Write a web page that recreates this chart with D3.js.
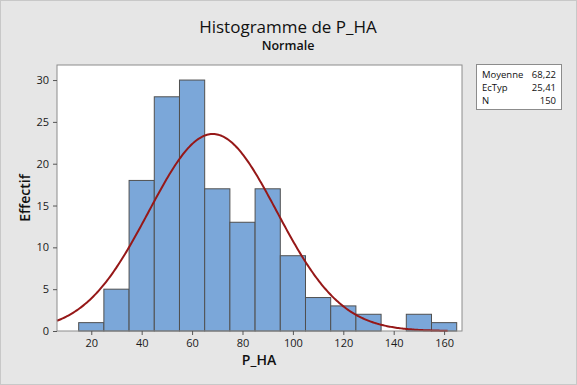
<!DOCTYPE html>
<html>
<head>
<meta charset="utf-8">
<script src="https://cdn.jsdelivr.net/npm/d3@7"></script>
<style>
  body { margin: 0; }
  svg { display: block; font-family: "Open Sans", "Noto Sans", sans-serif; }
</style>
</head>
<body>
<svg id="chart" width="577" height="385"></svg>
<script>
// bins of width 10 (lower edges) and their counts
const binStarts = [15, 25, 35, 45, 55, 65, 75, 85, 95, 105, 115, 125, 135, 145, 155];
const counts = [1, 5, 18, 28, 30, 17, 13, 17, 9, 4, 3, 2, 0, 2, 1];
const binWidth = 10;
const xTicks = [20, 40, 60, 80, 100, 120, 140, 160];
const yTicks = [0, 5, 10, 15, 20, 25, 30];
const stats = [
  { label: 'Moyenne', value: '68,22' },
  { label: 'EcTyp', value: '25,41' },
  { label: 'N', value: '150' }
];
const mean = 68.22, sd = 25.41, n = 150;

const svg = d3.select('#chart');
const W = 577, H = 385;
const plot = { left: 57, right: 462, top: 65, bottom: 331 };

// background
svg.append('rect')
  .attr('x', 0.5).attr('y', 0.5)
  .attr('width', W - 1).attr('height', H - 1)
  .attr('fill', '#e6e6e6')
  .attr('stroke', '#c8c8c8');

const x = d3.scaleLinear().domain([6.4, 167.1]).range([plot.left, plot.right]);
const y = d3.scaleLinear().domain([0, 31.8]).range([plot.bottom, plot.top]);

svg.append('rect')
  .attr('x', plot.left).attr('y', plot.top)
  .attr('width', plot.right - plot.left).attr('height', plot.bottom - plot.top)
  .attr('fill', '#fff');

// bars
svg.append('g')
  .selectAll('rect')
  .data(binStarts.map((b, i) => ({ x0: b, c: counts[i] })).filter(d => d.c > 0))
  .enter()
  .append('rect')
  .attr('x', d => x(d.x0))
  .attr('y', d => y(d.c))
  .attr('width', d => x(d.x0 + binWidth) - x(d.x0))
  .attr('height', d => y(0) - y(d.c))
  .attr('fill', '#7ba7d9')
  .attr('stroke', '#505050')
  .attr('stroke-width', 1);

// normal curve
const scale = n * binWidth;
const pdf = v => scale * Math.exp(-0.5 * ((v - mean) / sd) ** 2) / (sd * Math.sqrt(2 * Math.PI));
const curveX = d3.range(6.4, 161.5, 0.5);
svg.append('path')
  .datum(curveX)
  .attr('d', d3.line().x(d => x(d)).y(d => y(pdf(d))))
  .attr('fill', 'none')
  .attr('stroke', '#961818')
  .attr('stroke-width', 2);

// frame
svg.append('rect')
  .attr('x', plot.left).attr('y', plot.top)
  .attr('width', plot.right - plot.left).attr('height', plot.bottom - plot.top)
  .attr('fill', 'none')
  .attr('stroke', '#8c8c8c');

// axes
const xAxis = svg.append('g')
  .attr('transform', `translate(0,${plot.bottom})`)
  .call(d3.axisBottom(x).tickValues(xTicks).tickSize(4).tickPadding(4));
const yAxis = svg.append('g')
  .attr('transform', `translate(${plot.left},0)`)
  .call(d3.axisLeft(y).tickValues(yTicks).tickSize(4).tickPadding(4));
[xAxis, yAxis].forEach(a => {
  a.select('.domain').remove();
  a.selectAll('line').attr('stroke', '#555');
  a.selectAll('text').attr('font-size', 11).attr('fill', '#1a1a1a')
    .attr('font-family', '"Open Sans", "Noto Sans", sans-serif');
});

// titles
svg.append('text')
  .attr('x', 288).attr('y', 33)
  .attr('text-anchor', 'middle')
  .attr('font-size', 17)
  .attr('font-weight', 500)
  .attr('fill', '#111')
  .text('Histogramme de P_HA');
svg.append('text')
  .attr('x', 288).attr('y', 50)
  .attr('text-anchor', 'middle')
  .attr('font-size', 12.5)
  .attr('font-weight', 600)
  .attr('fill', '#111')
  .text('Normale');
svg.append('text')
  .attr('x', 259).attr('y', 365)
  .attr('text-anchor', 'middle')
  .attr('font-size', 14)
  .attr('font-weight', 600)
  .attr('fill', '#111')
  .text('P_HA');
svg.append('text')
  .attr('transform', 'translate(30,198) rotate(-90)')
  .attr('text-anchor', 'middle')
  .attr('font-size', 14)
  .attr('font-weight', 600)
  .attr('fill', '#111')
  .text('Effectif');

// stats box
const box = svg.append('g');
box.append('rect')
  .attr('x', 476.5).attr('y', 64.5)
  .attr('width', 85).attr('height', 45)
  .attr('fill', '#fff')
  .attr('stroke', '#8c8c8c');
const rows = box.selectAll('g.row')
  .data(stats)
  .enter()
  .append('g')
  .attr('transform', (d, i) => `translate(0,${77.5 + i * 13})`);
rows.append('text')
  .attr('x', 482)
  .attr('font-size', 9.5)
  .attr('fill', '#111')
  .text(d => d.label);
rows.append('text')
  .attr('x', 556)
  .attr('text-anchor', 'end')
  .attr('font-size', 9.5)
  .attr('fill', '#111')
  .text(d => d.value);
</script>
</body>
</html>
